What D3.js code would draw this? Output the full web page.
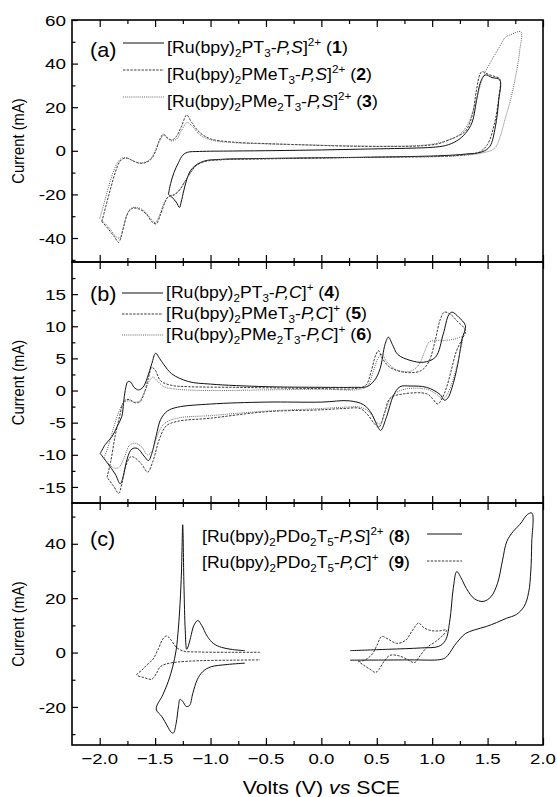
<!DOCTYPE html>
<html><head><meta charset="utf-8">
<script src="https://cdn.jsdelivr.net/npm/d3@7"></script>
<style>body{margin:0;background:#fff}text{font-family:Arial,"Liberation Sans",sans-serif;fill:#000}</style>
</head><body><svg id="c" width="557" height="797"></svg>
<script>
// ---------- data (Volts, mA) ----------
const xTicks = [-2.0,-1.5,-1.0,-0.5,0.0,0.5,1.0,1.5,2.0];
const xMinor = [-1.75,-1.25,-0.75,-0.25,0.25,0.75,1.25,1.75];
const aTicks = [-40,-20,0,20,40,60], aMinor = [-50,-30,-10,10,30,50];
const bTicks = [-15,-10,-5,0,5,10,15], bMinor = [-17.5,-12.5,-7.5,-2.5,2.5,7.5,12.5,17.5];
const cTicks = [-20,0,20,40], cMinor = [-30,-10,10,30,50];

const a1 = [[-1.38,-20],[-1.36,-15],[-1.33,-10],[-1.29,-5.5],[-1.25,-2],[-1.21,-0.7],[-1.1,-0.3],[-0.8,-0.1],[-0.4,0.1],[0.0,0.4],[0.4,0.8],[0.8,1.2],[1.0,1.6],[1.12,2.4],[1.22,4.5],[1.3,8],[1.36,13],[1.40,23],[1.44,32],[1.48,34.8],[1.54,33.6],[1.61,32.5],[1.60,23],[1.57,11],[1.52,2],[1.45,-0.5],[1.3,-1.5],[1.1,-2.2],[0.6,-2.8],[0.0,-3.2],[-0.5,-3.5],[-0.9,-3.9],[-1.05,-4.6],[-1.13,-6.5],[-1.18,-9],[-1.21,-12.5],[-1.24,-18],[-1.265,-23.5],[-1.28,-26],[-1.31,-23.5],[-1.35,-21.2],[-1.38,-20]];
const a2 = [[-1.98,-32.5],[-1.94,-24.5],[-1.90,-17],[-1.86,-10],[-1.82,-5],[-1.785,-3.5],[-1.75,-3.4],[-1.70,-4.6],[-1.64,-5.7],[-1.58,-5.3],[-1.53,-3.5],[-1.49,0.5],[-1.46,5],[-1.425,7.6],[-1.39,6],[-1.35,5],[-1.31,6.5],[-1.26,11.5],[-1.215,16.4],[-1.17,13],[-1.1,8.5],[-1.0,5.5],[-0.8,4],[-0.5,3.3],[-0.2,2.8],[0.2,2.2],[0.6,2.0],[0.9,2.3],[1.05,3.2],[1.15,5],[1.22,6.5],[1.3,9],[1.36,16],[1.40,28],[1.43,35],[1.45,36.3],[1.51,35],[1.57,34],[1.61,33],[1.60,24],[1.56,12],[1.50,3],[1.43,-0.5],[1.3,-1.8],[1.1,-2.5],[0.6,-2.9],[0.0,-3.3],[-0.5,-3.7],[-0.9,-4.1],[-1.05,-4.9],[-1.13,-6.8],[-1.18,-10],[-1.23,-14],[-1.28,-18],[-1.33,-20.3],[-1.38,-21],[-1.41,-23.5],[-1.45,-29],[-1.49,-33.5],[-1.53,-32.5],[-1.58,-29],[-1.64,-26.8],[-1.70,-26.3],[-1.74,-28],[-1.78,-34],[-1.81,-40],[-1.83,-42],[-1.86,-40],[-1.92,-36],[-1.98,-32.5]];
const a3 = [[-2.0,-31],[-1.96,-24],[-1.92,-16.5],[-1.88,-10],[-1.84,-5.5],[-1.80,-3.3],[-1.76,-3.2],[-1.71,-4.3],[-1.65,-5.5],[-1.59,-5.2],[-1.54,-3.5],[-1.50,0],[-1.46,4.5],[-1.42,7.2],[-1.385,5.5],[-1.34,4.5],[-1.30,5.8],[-1.26,9.5],[-1.21,13],[-1.16,11],[-1.1,7.5],[-1.0,5],[-0.8,3.8],[-0.5,3.2],[-0.2,2.8],[0.2,2.3],[0.6,2.1],[0.9,2.5],[1.05,3.5],[1.15,5],[1.25,7.5],[1.33,13],[1.40,24],[1.46,34],[1.53,41],[1.60,47],[1.66,52],[1.72,53.5],[1.80,54.6],[1.79,46],[1.76,36],[1.71,24],[1.655,14],[1.61,6],[1.56,1],[1.45,-1],[1.3,-2],[1.1,-2.6],[0.6,-2.9],[0.0,-3.2],[-0.5,-3.6],[-0.9,-4],[-1.05,-4.8],[-1.13,-6.8],[-1.18,-10],[-1.23,-14],[-1.28,-18],[-1.33,-20],[-1.38,-21],[-1.42,-24],[-1.46,-29.5],[-1.50,-33],[-1.54,-31],[-1.60,-27.5],[-1.66,-26],[-1.72,-26.5],[-1.76,-30],[-1.79,-36],[-1.82,-40],[-1.85,-39.5],[-1.92,-35],[-2.0,-31]];

const b4 = [[-1.995,-9.8],[-1.95,-8.4],[-1.89,-7.2],[-1.84,-5.5],[-1.80,-4],[-1.785,-2],[-1.77,0],[-1.745,1.4],[-1.72,1.3],[-1.69,0.5],[-1.65,0.1],[-1.61,0.5],[-1.57,2],[-1.53,4.2],[-1.495,5.8],[-1.46,5],[-1.42,4],[-1.35,2.6],[-1.2,1.4],[-1.0,1.0],[-0.5,0.6],[0.0,0.5],[0.3,0.5],[0.41,0.6],[0.48,1.6],[0.53,3.4],[0.575,7.2],[0.605,8.3],[0.64,7.2],[0.69,5.6],[0.8,4.7],[0.92,4.4],[1.03,5.2],[1.1,8.8],[1.15,11.8],[1.18,12.2],[1.24,11.4],[1.30,10.1],[1.27,8],[1.23,4],[1.18,0.5],[1.14,-1.2],[1.11,-1.5],[1.07,-0.6],[0.95,0.5],[0.8,0.7],[0.71,0.6],[0.65,-0.8],[0.59,-4],[0.535,-6.2],[0.5,-5.3],[0.45,-3.5],[0.38,-2.2],[0.25,-1.6],[0.0,-1.8],[-0.5,-1.8],[-1.0,-2.1],[-1.3,-2.6],[-1.39,-3.2],[-1.45,-4.5],[-1.49,-7],[-1.53,-9.8],[-1.56,-10.9],[-1.60,-10.2],[-1.66,-9],[-1.71,-9.1],[-1.75,-10.5],[-1.79,-13.5],[-1.815,-14.5],[-1.86,-13],[-1.93,-11.3],[-1.995,-9.8]];
const b5 = [[-1.934,-13.5],[-1.90,-11],[-1.86,-7],[-1.82,-4],[-1.79,-2],[-1.76,-1.4],[-1.72,-1.5],[-1.68,-1.9],[-1.64,-1.8],[-1.60,-0.5],[-1.56,2],[-1.53,3.6],[-1.50,3.2],[-1.45,1.5],[-1.35,0.8],[-1.2,0.6],[-0.8,0.5],[-0.4,0.4],[0.0,0.3],[0.3,0.3],[0.40,0.8],[0.45,3],[0.49,5.5],[0.515,6.2],[0.55,5],[0.62,3.6],[0.77,2.8],[0.9,3.1],[0.97,4.5],[1.03,8],[1.07,10.9],[1.11,12.2],[1.17,11.8],[1.22,10.9],[1.30,9.3],[1.27,8],[1.22,6.2],[1.17,3],[1.13,0.5],[1.09,-1.2],[1.05,-2.1],[1.0,-1.2],[0.95,-0.5],[0.75,-0.5],[0.62,-1.2],[0.57,-3.5],[0.52,-5.7],[0.48,-5.2],[0.42,-3.8],[0.35,-2.8],[0.2,-2.8],[0.0,-3.0],[-0.5,-3.3],[-1.0,-4.3],[-1.3,-4.8],[-1.40,-5.5],[-1.46,-7.5],[-1.52,-11],[-1.567,-12.7],[-1.62,-11.5],[-1.68,-10.5],[-1.72,-10.3],[-1.77,-12],[-1.80,-14.5],[-1.83,-16],[-1.87,-15],[-1.934,-13.5]];
const b6 = [[-1.96,-10.5],[-1.92,-8.5],[-1.87,-5.5],[-1.82,-3],[-1.78,-1.8],[-1.74,-1.6],[-1.69,-1.8],[-1.64,-1.6],[-1.59,0],[-1.55,1.6],[-1.52,2.1],[-1.48,1.5],[-1.42,0.6],[-1.3,0.2],[-1.0,0.0],[-0.5,0.1],[0.0,0.2],[0.35,0.2],[0.42,0.8],[0.47,3],[0.51,5],[0.545,5.6],[0.59,4.5],[0.68,3.2],[0.8,3],[0.88,4],[0.93,6],[0.97,7.5],[1.02,7.8],[1.12,7.8],[1.2,8],[1.27,8.3],[1.25,6],[1.21,3],[1.16,0.3],[1.12,-1],[1.09,-1.3],[1.04,-0.6],[0.95,0.2],[0.75,0.2],[0.64,-0.8],[0.58,-3],[0.53,-5.2],[0.49,-4.8],[0.43,-3.3],[0.35,-2.6],[0.2,-2.6],[0.0,-2.8],[-0.5,-3.2],[-1.0,-3.9],[-1.3,-4.3],[-1.42,-5.2],[-1.48,-7],[-1.53,-9.5],[-1.57,-10],[-1.62,-8.8],[-1.68,-8.2],[-1.73,-8.5],[-1.78,-10.5],[-1.83,-12],[-1.88,-12],[-1.96,-10.5]];

const c8L = [[-0.69,0.7],[-0.8,1.1],[-0.9,1.9],[-0.97,3.2],[-1.03,6],[-1.08,10],[-1.115,11.8],[-1.15,10],[-1.18,5.5],[-1.2,2.5],[-1.215,1.2],[-1.228,8],[-1.24,25],[-1.251,47],[-1.262,30],[-1.275,18],[-1.29,9],[-1.31,1],[-1.34,-5],[-1.38,-10.5],[-1.43,-15.5],[-1.49,-20.8],[-1.44,-23.5],[-1.39,-27],[-1.355,-29.3],[-1.335,-29.6],[-1.31,-26],[-1.29,-20],[-1.275,-17.2],[-1.25,-18],[-1.22,-19.8],[-1.19,-19.5],[-1.16,-15],[-1.12,-10],[-1.07,-7],[-1.0,-5.3],[-0.85,-4.4],[-0.69,-3.9]];
const c9L = [[-0.553,0.1],[-0.8,0.1],[-1.1,0.2],[-1.25,0.6],[-1.31,2],[-1.35,4.3],[-1.395,6.1],[-1.43,5],[-1.47,1.5],[-1.52,-2.5],[-1.576,-4.6],[-1.62,-6.5],[-1.666,-8.2],[-1.6,-9.2],[-1.53,-9.8],[-1.49,-7.8],[-1.456,-5.3],[-1.40,-4.2],[-1.3,-3.5],[-1.1,-3],[-0.8,-2.8],[-0.553,-2.7]];
const c8R = [[0.26,0.7],[0.6,1.2],[0.9,1.7],[1.06,2.3],[1.12,4.5],[1.16,12],[1.19,23.5],[1.222,29.8],[1.26,27.5],[1.31,23.5],[1.38,19.8],[1.46,18.8],[1.53,20.5],[1.59,25.5],[1.635,34],[1.673,40.8],[1.73,44.5],[1.793,47.2],[1.86,50.8],[1.9,51.3],[1.898,40],[1.89,30],[1.87,22],[1.83,17],[1.76,14],[1.67,12.6],[1.58,11],[1.49,9.6],[1.38,8.3],[1.3,7],[1.25,5],[1.2,2.5],[1.16,0],[1.12,-1.9],[1.07,-2.6],[0.8,-2.7],[0.26,-2.8]];
const c9R = [[0.334,-3.3],[0.40,-2.6],[0.46,-0.5],[0.50,2.5],[0.545,5.9],[0.6,5],[0.68,3.4],[0.76,4.5],[0.82,8],[0.876,10.8],[0.93,9],[1.0,8],[1.07,8],[1.131,8.3],[1.1,6.5],[1.03,4],[0.95,1.8],[0.89,-1.2],[0.84,-3.7],[0.78,-2.6],[0.70,-1.2],[0.62,-1],[0.57,-3],[0.52,-6.2],[0.49,-7.3],[0.44,-6.2],[0.38,-4.6],[0.334,-3.3]];

const aLegend = [
 ["[Ru(bpy)",["2","sub"],"PT",["3","sub"],"-",["P,S","i"],"]",["2+","sup"]," (",["1","b"],")"],
 ["[Ru(bpy)",["2","sub"],"PMeT",["3","sub"],"-",["P,S","i"],"]",["2+","sup"]," (",["2","b"],")"],
 ["[Ru(bpy)",["2","sub"],"PMe",["2","sub"],"T",["3","sub"],"-",["P,S","i"],"]",["2+","sup"]," (",["3","b"],")"]];
const bLegend = [
 ["[Ru(bpy)",["2","sub"],"PT",["3","sub"],"-",["P,C","i"],"]",["+","sup"]," (",["4","b"],")"],
 ["[Ru(bpy)",["2","sub"],"PMeT",["3","sub"],"-",["P,C","i"],"]",["+","sup"]," (",["5","b"],")"],
 ["[Ru(bpy)",["2","sub"],"PMe",["2","sub"],"T",["3","sub"],"-",["P,C","i"],"]",["+","sup"]," (",["6","b"],")"]];
const cLegend = [
 ["[Ru(bpy)",["2","sub"],"PDo",["2","sub"],"T",["5","sub"],"-",["P,S","i"],"]",["2+","sup"]," (",["8","b"],")"],
 ["[Ru(bpy)",["2","sub"],"PDo",["2","sub"],"T",["5","sub"],"-",["P,C","i"],"]",["+","sup"],"\u00a0\u00a0(",["9","b"],")"]];
const panelTags = ["(a)","(b)","(c)"];
const yTitle = "Current (mA)";

// ---------- drawing ----------
const svg = d3.select('#c');
const L = 72, R = 543;
const x = d3.scaleLinear().domain([-2.25, 2.0]).range([L, R]);
const styles = {
  solid: {stroke:'#111', w:1.0, dash:null},
  dashed:{stroke:'#222', w:0.9, dash:'2.4,1.3'},
  dotted:{stroke:'#666', w:1.0, dash:'1,1.1'}
};

function label(x0, y0, size, sx, anchor, parts, extra, fitW) {
  const t = svg.append('text')
    .attr('font-size', size).attr('text-anchor', anchor);
  let shift = 0;
  parts.forEach(p => {
    const [s, k] = typeof p === 'string' ? [p, ''] : p;
    const ts = t.append('tspan').text(s);
    let target = 0;
    if (k === 'sub') { ts.attr('font-size', size*0.66); target = size*0.28; }
    else if (k === 'sup') { ts.attr('font-size', size*0.66); target = -size*0.42; }
    else if (k === 'i') ts.attr('font-style', 'italic');
    else if (k === 'b') ts.attr('font-weight', 'bold');
    if (target - shift !== 0) ts.attr('dy', target - shift);
    shift = target;
  });
  if (fitW) { const len = t.node().getComputedTextLength(); if (len > 0) sx = fitW / len; }
  t.attr('transform', `translate(${x0},${y0}) scale(${sx},1)` + (extra||''));
  return t;
}

const panels = [
  {top:20, bot:262, dom:[-51,60], major:aTicks, minor:aMinor,
   curves:[[a1,'solid'],[a2,'dashed'],[a3,'dotted']],
   legend:aLegend, types:['solid','dashed','dotted'], lx:[123,164], ly:[43,70,97], tx:167, tend:[348,372,378], tb:[53,80,107], tagY:57},
  {top:262, bot:503, dom:[-17.5,20], major:bTicks, minor:bMinor,
   curves:[[b4,'solid'],[b5,'dashed'],[b6,'dotted']],
   legend:bLegend, types:['solid','dashed','dotted'], lx:[122,163], ly:[293,314,335], tx:166, tend:[340,367,372], tb:[298,319,340], tagY:301},
  {top:503, bot:745, dom:[-34,55], major:cTicks, minor:cMinor,
   curves:[[c8L,'solid'],[c8R,'solid'],[c9L,'dashed'],[c9R,'dashed']],
   legend:cLegend, types:['solid','dashed'], lx:[427,462], ly:[534,561], tx:202, tend:[410,410], tb:[542,568], tagY:546}
];

panels.forEach((p, i) => {
  const y = d3.scaleLinear().domain(p.dom).range([p.bot, p.top]);
  const ln = d3.line().x(d => x(d[0])).y(d => y(d[1])).curve(d3.curveCatmullRom.alpha(0.5));
  p.curves.forEach(([data, st]) => {
    const s = styles[st];
    svg.append('path').attr('d', ln(data)).attr('fill','none')
      .attr('stroke', s.stroke).attr('stroke-width', s.w)
      .attr('stroke-dasharray', s.dash).attr('stroke-linejoin','round');
  });
  const gA = svg.append('g');
  const mk = (gen, tr) => gA.append('g').attr('transform', tr).call(gen)
      .call(g => { g.selectAll('text').remove(); g.select('.domain').remove(); g.selectAll('line').attr('stroke','#000').attr('stroke-width',1.2); });
  mk(d3.axisBottom(x).tickValues(xTicks).tickSizeInner(-7).tickSizeOuter(0).tickFormat(''), `translate(0,${p.bot})`);
  mk(d3.axisBottom(x).tickValues(xMinor).tickSizeInner(-4).tickSizeOuter(0).tickFormat(''), `translate(0,${p.bot})`);
  mk(d3.axisTop(x).tickValues(xTicks).tickSizeInner(-7).tickSizeOuter(0).tickFormat(''), `translate(0,${p.top})`);
  mk(d3.axisTop(x).tickValues(xMinor).tickSizeInner(-4).tickSizeOuter(0).tickFormat(''), `translate(0,${p.top})`);
  mk(d3.axisLeft(y).tickValues(p.major).tickSizeInner(-6).tickSizeOuter(0).tickFormat(''), `translate(${L},0)`);
  mk(d3.axisLeft(y).tickValues(p.minor.filter(v => v > p.dom[0] && v < p.dom[1])).tickSizeInner(-3.5).tickSizeOuter(0).tickFormat(''), `translate(${L},0)`);
  svg.append('rect').attr('x', L).attr('y', p.top).attr('width', R - L).attr('height', p.bot - p.top)
    .attr('fill','none').attr('stroke','#000').attr('stroke-width',1.6);
  p.major.forEach(v => label(66, y(v) + 5.6, 15.5, 1.22, 'end', [String(v)]));
  label(24, (p.top + p.bot)/2, 14.8, 1.1, 'middle', [yTitle], ' rotate(-90)');
  label(90, p.tagY, 20, 1.08, 'start', [panelTags[i]]);
  p.legend.forEach((parts, j) => {
    const s = styles[p.types[j]];
    svg.append('line').attr('x1', p.lx[0]).attr('x2', p.lx[1]).attr('y1', p.ly[j]).attr('y2', p.ly[j])
      .attr('stroke', s.stroke).attr('stroke-width', s.w).attr('stroke-dasharray', s.dash);
    label(p.tx, p.tb[j], 16, 1.09, 'start', parts, '', p.tend[j] - p.tx);
  });
});

xTicks.forEach(v => label(x(v), 764, 15.5, 1.2, 'middle', [d3.format('.1f')(v)]));
label(x(0), 794, 18.5, 1.15, 'middle', ["Volts (V) ", ["vs", "i"], " SCE"]);
</script></body></html>
